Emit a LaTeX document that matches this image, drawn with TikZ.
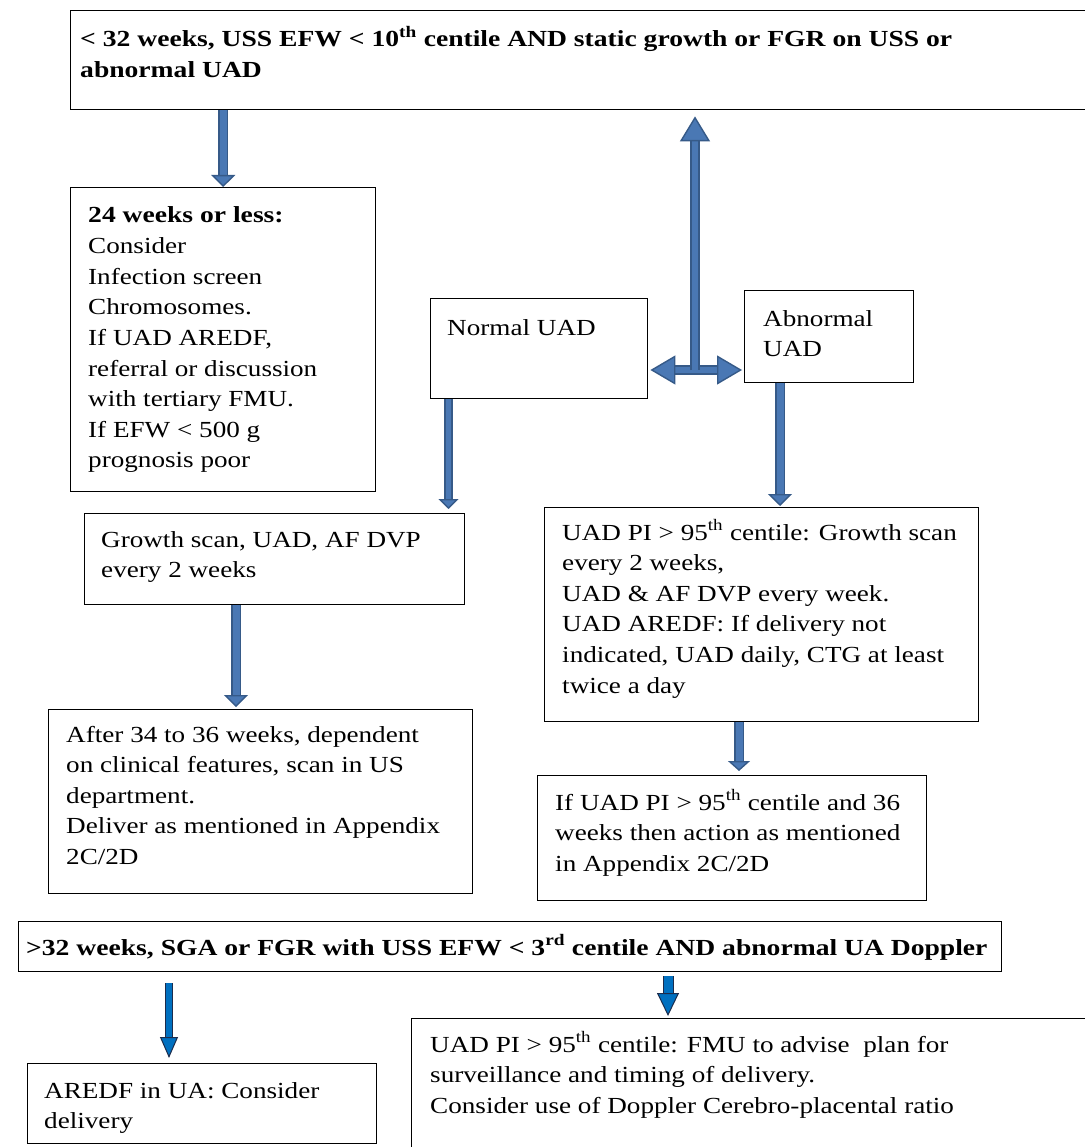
\documentclass[tikz,border=0pt]{standalone}
\usepackage{fontspec}
\setmainfont{Liberation Serif}[FakeStretch=1.18, BoldFeatures={FakeStretch=1.2}]
\usetikzlibrary{arrows.meta,calc}

\definecolor{arrowfill}{HTML}{4A78B4}
\definecolor{arrowedge}{HTML}{365A88}
\definecolor{brightfill}{HTML}{0070C0}
\definecolor{brightedge}{HTML}{1C2C4C}

\tikzset{
  box/.style={draw=black, line width=1.4pt, fill=white, anchor=north west, inner sep=0pt},
  txt/.style={anchor=base west, inner sep=0pt, font=\fontsize{23}{30.6}\selectfont},
  % block arrow: shaft width (inner) / head width / head length
  blockarrow/.style args={#1/#2/#3}{draw=arrowedge, line width=1.4pt,
    double=arrowfill, double distance=#1,
    -{Triangle[width=#2, length=#3, line width=1.4pt, fill=arrowfill]}},
  twinarrow/.style args={#1/#2/#3}{draw=arrowedge, line width=1.4pt,
    double=arrowfill, double distance=#1,
    {Triangle[width=#2, length=#3, line width=1.4pt, fill=arrowfill]}-{Triangle[width=#2, length=#3, line width=1.4pt, fill=arrowfill]}},
  brightarrow/.style args={#1/#2/#3}{draw=brightedge, line width=1pt,
    double=brightfill, double distance=#1,
    -{Triangle[width=#2, length=#3, line width=1pt, fill=brightfill]}},
}

\begin{document}
\begin{tikzpicture}[x=1pt,y=-1pt]
\useasboundingbox[fill=white] (0,0) rectangle (1084,1147);

% ---- boxes ----
\node[box, minimum width=1040pt, minimum height=99pt]  (top)    at (70,10)   {};
\node[box, minimum width=305pt,  minimum height=304pt] (wk)     at (70,187)  {};
\node[box, minimum width=217pt,  minimum height=100pt] (normal) at (430,298) {};
\node[box, minimum width=169pt,  minimum height=92pt]  (abn)    at (744,290) {};
\node[box, minimum width=380pt,  minimum height=91pt]  (growth) at (84,513)  {};
\node[box, minimum width=434pt,  minimum height=214pt] (uadpi)  at (544,507) {};
\node[box, minimum width=424pt,  minimum height=184pt] (late)   at (48,709)  {};
\node[box, minimum width=389pt,  minimum height=125pt] (ifuad)  at (537,775) {};
\node[box, minimum width=983pt,  minimum height=50pt]  (gt32)   at (18,921)  {};
\node[box, minimum width=349pt,  minimum height=80pt]  (aredf)  at (27,1063) {};
\node[box, minimum width=700pt,  minimum height=140pt] (fmu)    at (411,1018) {};

% ---- texts ----
\node[txt] (topt) at (80,47) {\parbox[t]{1000pt}{\raggedright\bfseries
  < 32 weeks, USS EFW < 10\textsuperscript{th} centile AND static growth or FGR on USS or\\
  abnormal UAD}};
\node[txt] (wkt) at (88,223) {\parbox[t]{400pt}{\raggedright
  \textbf{24 weeks or less:}\\
  Consider\\
  Infection screen\\
  Chromosomes.\\
  If UAD AREDF,\\
  referral or discussion\\
  with tertiary FMU.\\
  If EFW < 500 g\\
  prognosis poor}};
\node[txt] (normalt) at (447,335) {Normal UAD};
\node[txt] (abnt) at (763,326) {\parbox[t]{200pt}{\raggedright Abnormal\\UAD}};
\node[txt] (growtht) at (101,547) {\parbox[t]{400pt}{\raggedright
  Growth scan, UAD, AF DVP\\
  every 2 weeks}};
\node[txt] (uadpit) at (562,540) {\parbox[t]{500pt}{\raggedright
  UAD PI > 95\textsuperscript{th} centile: Growth scan\\
  every 2 weeks,\\
  UAD \& AF DVP every week.\\
  UAD AREDF: If delivery not\\
  indicated, UAD daily, CTG at least\\
  twice a day}};
\node[txt] (latet) at (66,742) {\parbox[t]{500pt}{\raggedright
  After 34 to 36 weeks, dependent\\
  on clinical features, scan in US\\
  department.\\
  Deliver as mentioned in Appendix\\
  2C/2D}};
\node[txt] (ifuadt) at (555,810) {\parbox[t]{500pt}{\raggedright
  If UAD PI > 95\textsuperscript{th} centile and 36\\
  weeks then action as mentioned\\
  in Appendix 2C/2D}};
\node[txt] (gt32t) at (26,955) {\bfseries >32 weeks, SGA or FGR with USS EFW < 3\textsuperscript{rd} centile AND abnormal UA Doppler};
\node[txt] (aredft) at (44,1098) {\parbox[t]{400pt}{\raggedright
  AREDF in UA: Consider\\
  delivery}};
\node[txt] (fmut) at (430,1052) {\parbox[t]{700pt}{\raggedright
  UAD PI > 95\textsuperscript{th} centile: FMU to advise\ \ plan for\\
  surveillance and timing of delivery.\\
  Consider use of Doppler Cerebro-placental ratio}};

% ---- arrow anchor points ----
\coordinate (hub) at (695,370);
\coordinate (n1) at ([xshift=18.5pt]normal.south west);
\coordinate (a1) at ([xshift=36pt]abn.south west);
\coordinate (g1) at ([xshift=152pt]growth.south west);
\coordinate (u1) at ([xshift=195pt]uadpi.south west);
\coordinate (b1) at ([xshift=151pt]gt32.south west);
\coordinate (b2) at ([xshift=650pt]gt32.south west);

% ---- connectors ----
\draw[blockarrow=7pt/24pt/12pt] (wk.north |- top.south) -- (wk.north);
\draw[twinarrow=6.5pt/29pt/25pt, shorten <=2pt, shorten >=2pt] (hub -| normal.east) -- (hub -| abn.west);
\draw[blockarrow=6.5pt/30pt/25pt, shorten >=6pt] (hub) -- (hub |- top.south);
\draw[blockarrow=5.5pt/20pt/10pt, shorten >=4pt] (n1) -- (n1 |- growth.north);
\draw[blockarrow=7pt/24pt/12pt, shorten >=1pt] (a1) -- (a1 |- uadpi.north);
\draw[blockarrow=7pt/24pt/12pt, shorten >=2pt] (g1) -- (g1 |- late.north);
\draw[blockarrow=7pt/22pt/10pt, shorten >=4pt] (u1) -- (u1 |- ifuad.north);
\draw[brightarrow=6pt/18pt/21pt, shorten <=11pt, shorten >=5pt] (b1) -- (b1 |- aredf.north);
\draw[brightarrow=9pt/22pt/23pt, shorten <=4pt, shorten >=2pt] (b2) -- (b2 |- fmu.north);
\end{tikzpicture}
\end{document}
